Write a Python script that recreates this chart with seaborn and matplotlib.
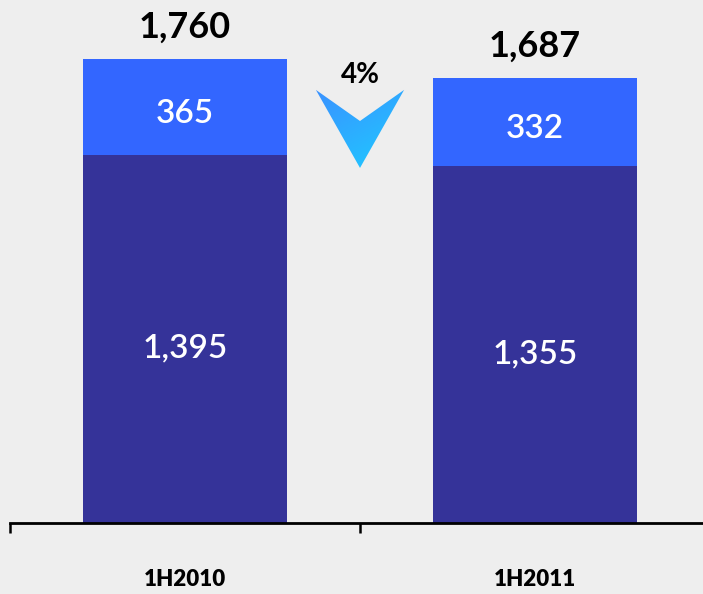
import numpy as np
import pandas as pd
import matplotlib
matplotlib.use("Agg")
import matplotlib.pyplot as plt
from matplotlib.patches import Polygon
from matplotlib.colors import LinearSegmentedColormap
import seaborn as sns

# values
periods = ["1H2010", "1H2011"]
base_values = [1395, 1355]
top_values = [365, 332]
totals = [b + t for b, t in zip(base_values, top_values)]
change_label = "4%"

df = pd.DataFrame({
    "period": periods,
    "base": base_values,
    "top": top_values,
    "total": totals,
})

BG = "#eeeeee"
DARK = "#353399"
LIGHT = "#3366ff"

sns.set_theme(style="white")
plt.rcParams["font.family"] = ["Lato", "DejaVu Sans"]

fig = plt.figure(figsize=(7.03, 5.94), dpi=100, facecolor=BG)
ax = fig.add_axes([10 / 703, 71 / 594, 700 / 703, 523 / 594])
ax.set_facecolor(BG)

# full bar in the light colour, then the base part drawn over it
sns.barplot(data=df, x="period", y="total", color=LIGHT, saturation=1,
            width=0.585, errorbar=None, linewidth=0, ax=ax)
sns.barplot(data=df, x="period", y="base", color=DARK, saturation=1,
            width=0.585, errorbar=None, linewidth=0, ax=ax)

ax.set_xlim(-0.5, 1.5)
ax.set_ylim(0, 1984)

for i, row in df.iterrows():
    ax.annotate(f"{row['base']:,}", (i, row["base"] / 2), xytext=(0, -7),
                textcoords="offset points", color="white", fontsize=24,
                fontweight="semibold", ha="center", va="center")
    ax.annotate(f"{row['top']:,}", (i, row["base"] + row["top"] / 2),
                xytext=(0, -5), textcoords="offset points", color="white",
                fontsize=24, fontweight="semibold", ha="center", va="center")
    ax.annotate(f"{row['total']:,}", (i, row["total"]), xytext=(0, 11),
                textcoords="offset points", ha="center", va="bottom",
                fontsize=26, fontweight="bold", color="black")

# change arrow between the bars
cx, hw = 0.5, 0.126
y_top, y_notch, y_tip = 1643, 1525, 1347
arrow = Polygon([(cx - hw, y_top), (cx, y_notch), (cx + hw, y_top), (cx, y_tip)],
                closed=True, facecolor="none", edgecolor="none")
ax.add_patch(arrow)
xx, yy = np.meshgrid(np.linspace(0, 1, 50), np.linspace(0, 1, 50))
grad = 0.6 * yy + 0.4 * xx
cmap = LinearSegmentedColormap.from_list("arrow", ["#3a92ff", "#1ecbff"])
img = ax.imshow(grad, extent=[cx - hw, cx + hw, y_tip, y_top], origin="upper",
                cmap=cmap, aspect="auto", zorder=3)
img.set_clip_path(arrow)
ax.text(cx, 1700, change_label, ha="center", va="center", fontsize=20,
        fontweight="bold", color="black")

ax.set_xlim(-0.5, 1.5)
ax.set_ylim(0, 1984)

# axis styling
for side in ["left", "top", "right"]:
    ax.spines[side].set_visible(False)
ax.spines["bottom"].set_color("black")
ax.spines["bottom"].set_linewidth(2)
ax.set_yticks([])
ax.set_xlabel("")
ax.set_ylabel("")
ax.set_xticks([0, 1])
ax.set_xticklabels(periods, fontsize=16, fontweight="heavy", color="black")
ax.tick_params(axis="x", which="major", length=0, pad=33)
ax.set_xticks([-0.5, 0.5, 1.5], minor=True)
ax.tick_params(axis="x", which="minor", direction="out", length=7,
               width=1.8, color="black", bottom=True)

fig.savefig("out.png", dpi=100, facecolor=BG)
